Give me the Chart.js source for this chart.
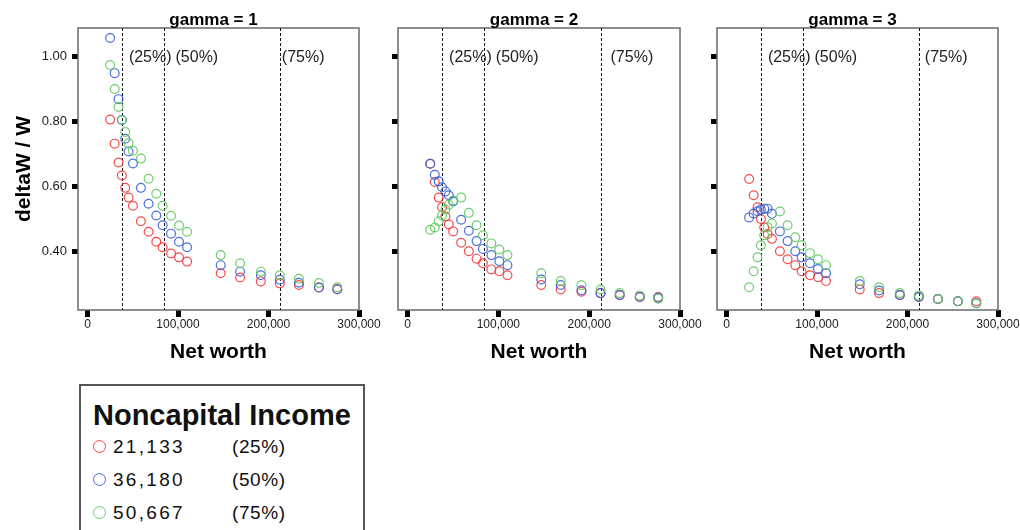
<!DOCTYPE html>
<html>
<head>
<meta charset="utf-8">
<script src="https://cdn.jsdelivr.net/npm/chart.js@4.4.1/dist/chart.umd.min.js"></script>
<style>
  body { margin: 0; width: 1020px; height: 530px; overflow: hidden; background: #fff; position: relative;
         font-family: "Liberation Sans", Arial, sans-serif; color: #111; }
  canvas { position: absolute; top: 0; }
  #legend { position: absolute; left: 79px; top: 384px; width: 282px; height: 200px; border: 2px solid #555; }
  .lg { position: absolute; white-space: nowrap; }
  .lg-title { font-size: 29px; font-weight: bold; line-height: 30px; }
  .lg-num { font-size: 19px; line-height: 20px; letter-spacing: 2.3px; }
  .lg-pct { font-size: 19px; line-height: 20px; letter-spacing: 0.6px; }
  .lg-dot { position: absolute; width: 13px; height: 13px; box-sizing: border-box; border: 1.5px solid; border-radius: 50%; }
</style>
</head>
<body>
<canvas id="g1" width="400" height="370" style="left:0px"></canvas>
<canvas id="g2" width="400" height="370" style="left:320px"></canvas>
<canvas id="g3" width="390" height="370" style="left:639px"></canvas>
<div id="legend"></div>
<script>
"use strict";

// net worth grid (x) shared by every series
const netWorth = [25000, 30000, 34300, 38000, 41700, 45400, 50200, 59000, 67500, 76000, 83000,
                  92300, 101100, 110000, 147200, 168600, 191500, 212500, 233600, 255700, 276000];

// noncapital income groups
const incomeLevels = ['21,133', '36,180', '50,667'];
const incomePct = ['(25%)', '(50%)', '(75%)'];

// net worth percentiles (dashed lines)
const netWorthPct = [38000, 84000, 212500];
const netWorthPctLabels = ['(25%)', '(50%)', '(75%)'];

const xTicks = [0, 100000, 200000, 300000];
const yTicks = [0.40, 0.60, 0.80, 1.00];

// deltaW / W, gamma = 1
const g1Low  = [0.807, 0.733, 0.675, 0.635, 0.597, 0.567, 0.542, 0.494, 0.462, 0.431, 0.414, 0.395, 0.383, 0.370, 0.334, 0.321, 0.309, 0.303, 0.298, 0.290, 0.285];
const g1Mid  = [1.058, 0.950, 0.870, 0.806, 0.748, 0.709, 0.672, 0.597, 0.548, 0.512, 0.482, 0.456, 0.431, 0.414, 0.359, 0.339, 0.328, 0.314, 0.305, 0.290, 0.285];
const g1High = [0.975, 0.901, 0.846, 0.806, 0.769, 0.734, 0.711, 0.687, 0.625, 0.579, 0.542, 0.511, 0.481, 0.462, 0.390, 0.365, 0.339, 0.328, 0.317, 0.304, 0.291];

// gamma = 2
const g2Low  = [0.671, 0.615, 0.567, 0.537, 0.509, 0.484, 0.463, 0.428, 0.402, 0.379, 0.365, 0.346, 0.340, 0.328, 0.298, 0.284, 0.277, 0.273, 0.267, 0.261, 0.261];
const g2Mid  = [0.671, 0.637, 0.617, 0.599, 0.586, 0.574, 0.555, 0.499, 0.465, 0.433, 0.409, 0.390, 0.371, 0.359, 0.315, 0.298, 0.282, 0.273, 0.267, 0.261, 0.259];
const g2High = [0.468, 0.475, 0.494, 0.512, 0.530, 0.545, 0.558, 0.567, 0.520, 0.482, 0.451, 0.426, 0.407, 0.390, 0.334, 0.310, 0.297, 0.284, 0.273, 0.266, 0.256];

// gamma = 3
const g3Low  = [0.624, 0.574, 0.537, 0.501, 0.475, 0.455, 0.440, 0.402, 0.377, 0.359, 0.340, 0.328, 0.322, 0.310, 0.284, 0.273, 0.267, 0.261, 0.255, 0.248, 0.248];
const g3Mid  = [0.506, 0.518, 0.525, 0.530, 0.533, 0.533, 0.517, 0.463, 0.433, 0.402, 0.383, 0.365, 0.347, 0.334, 0.300, 0.281, 0.267, 0.261, 0.255, 0.248, 0.242];
const g3High = [0.291, 0.340, 0.383, 0.420, 0.451, 0.476, 0.487, 0.524, 0.482, 0.445, 0.420, 0.396, 0.377, 0.359, 0.310, 0.291, 0.273, 0.266, 0.255, 0.248, 0.242];

const colors = ['rgba(245,55,55,0.9)', 'rgba(55,95,215,0.9)', 'rgba(95,200,95,0.9)'];
const FONT = '"Liberation Sans", Arial, sans-serif';

Chart.defaults.font.family = FONT;
Chart.defaults.color = '#1a1a1a';

// frame, percentile lines, their labels and the panel title
const panelDeco = {
    id: 'panelDeco',
    beforeDatasetsDraw(chart, args, opts) {
        const {ctx, chartArea: a, scales: {x}} = chart;
        ctx.save();
        ctx.strokeStyle = '#6a6a6a';
        ctx.lineWidth = 1.5;
        ctx.strokeRect(a.left, a.top, a.width, a.height);

        ctx.strokeStyle = '#111';
        ctx.lineWidth = 1;
        ctx.setLineDash([3, 2]);
        netWorthPct.forEach(v => {
            const px = Math.round(x.getPixelForValue(v)) + 0.5;
            ctx.beginPath();
            ctx.moveTo(px, a.top);
            ctx.lineTo(px, a.bottom);
            ctx.stroke();
        });
        ctx.setLineDash([]);

        ctx.fillStyle = '#222';
        ctx.font = '16px ' + FONT;
        ctx.textAlign = 'left';
        ctx.textBaseline = 'middle';
        netWorthPctLabels.forEach((t, i) => {
            ctx.fillText(t, x.getPixelForValue(netWorthPct[i]) + opts.gaps[i], 58);
        });

        ctx.fillStyle = '#000';
        ctx.font = 'bold 17px ' + FONT;
        ctx.textAlign = 'center';
        ctx.fillText(opts.title, (a.left + a.right) / 2 - 5, 20);
        ctx.restore();
    }
};

function makePanel(id, gamma, series, gaps, rightPad, showY) {
    new Chart(document.getElementById(id), {
        type: 'scatter',
        data: {
            datasets: series.map((s, i) => ({
                label: incomeLevels[i],
                data: netWorth.map((v, j) => ({x: v, y: s[j]})),
                pointRadius: 4.4,
                pointBorderWidth: 1.2,
                pointBorderColor: colors[i],
                pointBackgroundColor: 'rgba(0,0,0,0)',
                order: 2 - i
            }))
        },
        options: {
            responsive: false,
            animation: false,
            events: [],
            layout: {padding: {top: 28, right: rightPad, left: 0, bottom: 0}},
            plugins: {
                legend: {display: false},
                tooltip: {enabled: false},
                title: {display: false},
                panelDeco: {title: 'gamma = ' + gamma, gaps: gaps}
            },
            scales: {
                x: {
                    type: 'linear',
                    min: -10500,
                    max: 300000,
                    afterBuildTicks: sc => { sc.ticks = xTicks.map(v => ({value: v})); },
                    afterFit: sc => { sc.height = 60; },
                    border: {display: false},
                    grid: {drawOnChartArea: false, drawTicks: true, tickLength: 7, tickWidth: 5, tickColor: '#000'},
                    ticks: {
                        padding: 0,
                        maxRotation: 0,
                        font: {size: 12},
                        callback: v => v.toLocaleString('en-US')
                    },
                    title: {
                        display: true,
                        text: 'Net worth',
                        color: '#000',
                        font: {size: 21, weight: 'bold'},
                        padding: {top: 0, bottom: 5}
                    }
                },
                y: {
                    min: 0.221,
                    max: 1.089,
                    afterBuildTicks: sc => { sc.ticks = yTicks.map(v => ({value: v})); },
                    afterFit: sc => { sc.width = 78; },
                    border: {display: false},
                    grid: {drawOnChartArea: false, drawTicks: true, tickLength: 6, tickWidth: 5, tickColor: '#000'},
                    ticks: {
                        display: showY,
                        padding: 5,
                        font: {size: 13},
                        callback: v => v.toFixed(2)
                    },
                    title: {
                        display: showY,
                        text: 'deltaW / W',
                        color: '#000',
                        font: {size: 21, weight: 'bold'},
                        padding: {top: 12, bottom: 0}
                    }
                }
            }
        },
        plugins: [panelDeco]
    });
}

makePanel('g1', 1, [g1Low, g1Mid, g1High], [7, 12, 2], 41, true);
makePanel('g2', 2, [g2Low, g2Mid, g2High], [7, 12, 10], 40, false);
makePanel('g3', 3, [g3Low, g3Mid, g3High], [7, 12, 6], 31, false);

// legend box
const legend = document.getElementById('legend');
let html = '<div class="lg lg-title" style="left:12px;top:14px">Noncapital Income</div>';
const rowTops = [51, 84, 117];
incomeLevels.forEach((lv, i) => {
    const top = rowTops[i];
    html += '<span class="lg-dot" style="left:12px;top:' + (top + 3) + 'px;border-color:' + colors[i] + '"></span>';
    html += '<div class="lg lg-num" style="left:32px;top:' + top + 'px">' + lv + '</div>';
    html += '<div class="lg lg-pct" style="left:151px;top:' + top + 'px">' + incomePct[i] + '</div>';
});
legend.innerHTML = html;
</script>
</body>
</html>
